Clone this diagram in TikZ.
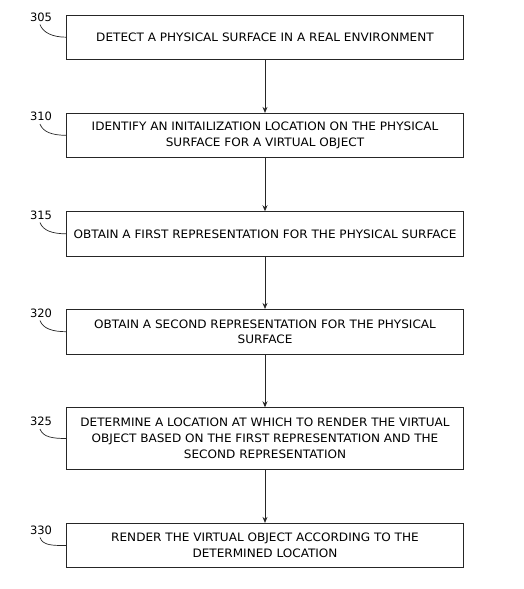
\documentclass[tikz,border=0pt]{standalone}
\usepackage{fontspec}
\setmainfont{DejaVu Sans}[FakeStretch=1.04]
\newfontfamily\labfont{DejaVu Sans}
\usetikzlibrary{arrows.meta}
\begin{document}
\begin{tikzpicture}[x=1pt,y=-1pt,
  stepbox/.style={draw=black!85, line width=0.8pt, rectangle, minimum width=396.6pt, align=center, inner sep=0pt, font=\fontsize{11.6}{15.8}\selectfont},
  reflabel/.style={font=\labfont\fontsize{11.5}{12}\selectfont, inner sep=0pt},
  flow/.style={draw=black!85, line width=0.8pt, -{Stealth[length=6pt,width=5pt]}},
  lead/.style={draw=black!85, line width=0.7pt}]
\useasboundingbox (0,0) rectangle (523,589);
\node[stepbox, minimum height=44.3pt] (b305) at (265,37.2) {DETECT A PHYSICAL SURFACE IN A REAL ENVIRONMENT};
\node[stepbox, minimum height=44pt] (b310) at (265,135.3) {IDENTIFY AN INITAILIZATION LOCATION ON THE PHYSICAL\\SURFACE FOR A VIRTUAL OBJECT};
\node[stepbox, minimum height=44.3pt] (b315) at (265,233.8) {OBTAIN A FIRST REPRESENTATION FOR THE PHYSICAL SURFACE};
\node[stepbox, minimum height=44.7pt] (b320) at (265,331.7) {OBTAIN A SECOND REPRESENTATION FOR THE PHYSICAL\\SURFACE};
\node[stepbox, minimum height=61.6pt] (b325) at (265,438.5) {DETERMINE A LOCATION AT WHICH TO RENDER THE VIRTUAL\\OBJECT BASED ON THE FIRST REPRESENTATION AND THE\\SECOND REPRESENTATION};
\node[stepbox, minimum height=44.4pt] (b330) at (265,545.5) {RENDER THE VIRTUAL OBJECT ACCORDING TO THE\\DETERMINED LOCATION};
\foreach \n/\y in {305/17,310/116.5,315/215,320/313,325/421.5,330/530}{
  \node[reflabel] (l\n) at (41,\y) {\n};
  \draw[lead] ([xshift=-1pt,yshift=-3pt]l\n.south) .. controls +(3,8) and +(-14,0) .. (b\n.west);
}
\draw[flow] (b305) -- (b310);
\draw[flow] (b310) -- (b315);
\draw[flow] (b315) -- (b320);
\draw[flow] (b320) -- (b325);
\draw[flow] (b325) -- (b330);
\end{tikzpicture}
\end{document}
